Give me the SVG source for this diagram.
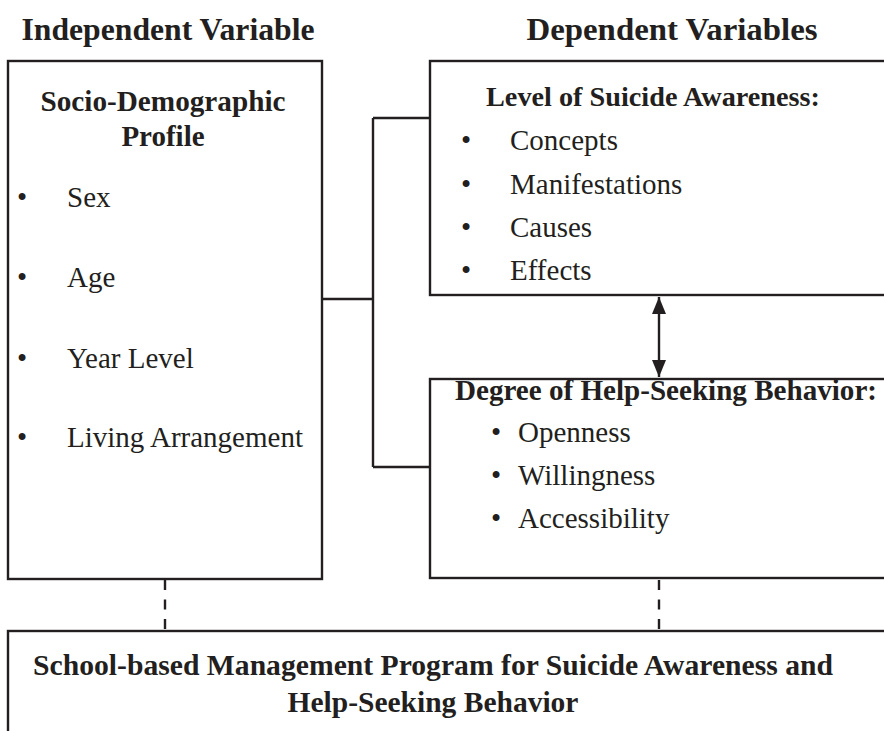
<svg xmlns="http://www.w3.org/2000/svg" width="884" height="731" viewBox="0 0 884 731">
<defs>
<style>
.box{fill:#fff;stroke:#231f20;stroke-width:2.4}
.ln{fill:none;stroke:#231f20;stroke-width:2.4}
.dash{fill:none;stroke:#231f20;stroke-width:2.4;stroke-dasharray:10 9.5}
.b{font-family:"Liberation Serif","Times New Roman",serif;font-weight:bold;fill:#231f20}
.t{font-family:"Liberation Serif","Times New Roman",serif;font-size:29px;fill:#231f20}
.m{text-anchor:middle}
</style>
<marker id="ah" viewBox="0 0 17 14" refX="17" refY="7" markerWidth="17" markerHeight="14" markerUnits="userSpaceOnUse" orient="auto-start-reverse">
<path d="M0,0 L17,7 L0,14 Z" fill="#231f20"/>
</marker>
</defs>
<rect width="884" height="731" fill="#fff"/>
<text class="b m" x="168" y="40" style="font-size:31px" textLength="293" lengthAdjust="spacingAndGlyphs">Independent Variable</text>
<text class="b m" x="672" y="40" style="font-size:31px" textLength="291" lengthAdjust="spacingAndGlyphs">Dependent Variables</text>

<g id="connectors">
<path class="ln" d="M322,299 H373 M373,118 V467 M373,118 H430 M373,467 H430"/>
<line class="ln" x1="659" y1="297" x2="659" y2="377" marker-start="url(#ah)" marker-end="url(#ah)"/>
<path class="dash" d="M165,580 V630 M659,580 V630"/>
</g>

<g id="independent">
<rect class="box" x="8" y="61" width="314" height="518"/>
<text class="b m" x="163" y="111" style="font-size:29px" textLength="245" lengthAdjust="spacingAndGlyphs">Socio-Demographic</text>
<text class="b m" x="163" y="146" style="font-size:29px">Profile</text>
<text class="t" x="17" y="207">•</text><text class="t" x="67" y="207">Sex</text>
<text class="t" x="17" y="287">•</text><text class="t" x="67" y="287">Age</text>
<text class="t" x="17" y="368">•</text><text class="t" x="67" y="368">Year Level</text>
<text class="t" x="17" y="447">•</text><text class="t" x="67" y="447">Living Arrangement</text>
</g>

<g id="awareness">
<rect class="box" x="430" y="61" width="460" height="234"/>
<text class="b" x="486" y="106" style="font-size:28px" textLength="334" lengthAdjust="spacingAndGlyphs">Level of Suicide Awareness:</text>
<text class="t" x="461" y="150">•</text><text class="t" x="510" y="150">Concepts</text>
<text class="t" x="461" y="194">•</text><text class="t" x="510" y="194">Manifestations</text>
<text class="t" x="461" y="237">•</text><text class="t" x="510" y="237">Causes</text>
<text class="t" x="461" y="280">•</text><text class="t" x="510" y="280">Effects</text>
</g>

<g id="helpseeking">
<rect class="box" x="430" y="379" width="460" height="199"/>
<text class="b" x="455" y="400" style="font-size:29px" textLength="422" lengthAdjust="spacingAndGlyphs">Degree of Help-Seeking Behavior:</text>
<text class="t" x="491" y="442">•</text><text class="t" x="518" y="442">Openness</text>
<text class="t" x="491" y="485">•</text><text class="t" x="518" y="485">Willingness</text>
<text class="t" x="491" y="528">•</text><text class="t" x="518" y="528">Accessibility</text>
</g>

<g id="program">
<rect class="box" x="8" y="631" width="884" height="110"/>
<text class="b m" x="433" y="675" style="font-size:29.5px" textLength="800" lengthAdjust="spacingAndGlyphs">School-based Management Program for Suicide Awareness and</text>
<text class="b m" x="433" y="712" style="font-size:29.5px">Help-Seeking Behavior</text>
</g>
</svg>
